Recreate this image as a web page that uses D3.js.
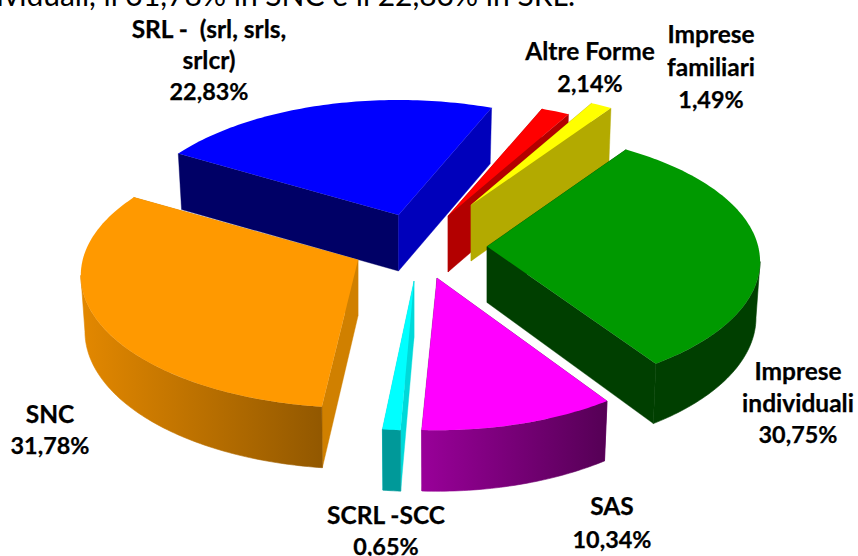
<!DOCTYPE html>
<html>
<head>
<meta charset="utf-8">
<script src="https://cdn.jsdelivr.net/npm/d3@7/dist/d3.min.js"></script>
<style>
html,body{margin:0;padding:0;background:#fff;overflow:hidden}
svg{display:block}
text{font-family:Lato,"Open Sans",sans-serif;fill:#000}
</style>
</head>
<body>
<svg id="chart" width="858" height="556"></svg>
<script>
// ---------- data ----------
const categories = ["Imprese individuali","SAS","SCRL -SCC","SNC","SRL -  (srl, srls, srlcr)","Altre Forme","Imprese familiari"];
const shares = [30.75,10.34,0.65,31.78,22.83,2.14,1.49];
const shareLabels = ["30,75%","10,34%","0,65%","31,78%","22,83%","2,14%","1,49%"];
const labelLines = [["Imprese","individuali"],["SAS"],["SCRL -SCC"],["SNC"],["SRL -  (srl, srls,","srlcr)"],["Altre Forme"],["Imprese","familiari"]];
const captionTail = "individuali, il 31,78% in SNC e il 22,83% in SRL.";

// ---------- styles ----------
const topColors   = ["#009900","#ff00ff","#00ffff","#ff9900","#0000ff","#ff0000","#ffff00"];
const wallFrom    = ["#003f00","#990099","#009999","#e38800","#000080","#b30000","#b3aa00"];
const wallTo      = ["#003f00","#550055","#009999","#925800","#000080","#b30000","#b3aa00"];
const startFace   = ["#003f00","#800080","#00d9d9","#d08000","#000066","#b30000","#b3aa00"];
const endFace     = ["#003f00","#800080","#00d9d9","#d08000","#0000bb","#b30000","#b3aa00"];

// ---------- layout ----------
const centre = [415,240];
const explodeX = [72,22,-1,-57,-16.5,33,56];       // exploded displacement of each slice
const explodeY = [6.5,38,41,20,-25,-24,-35];
const drawOrder = [4,5,6,0,3,2,1];                 // back to front
const radiusX = 275, radiusY = 130, perspectiveDrop = 15;
const frontGrow = [1,1.05,1.03,1.02,1,1,1];
const widthGrow = [.993,1,.88,1.008,.99,1,1];
const lowerRimScale = 0.985, depthBack = 56, depthExtra = 5;
const viewAngles = [-59.4,51.8,93.2,97.5,216,290,296,300.6]; // slice boundaries as seen in the 3-D view
const labelX = [798,612,386,50,209,590,711];
const labelY = [380,515,524,423,38,60,43];
const lineGap = [31.5,33,31,31,31,32,32.5];
const nameSize = 24.5, shareSize = 23.4;

// ---------- scales ----------
const arcs = d3.pie().sort(null).value(d=>d)(shares);
const boundaries = [0,...arcs.map(a=>a.endAngle)];
const viewAngle = d3.scaleLinear().domain(boundaries).range(viewAngles);
const rad = d=>d*Math.PI/180;

const svg = d3.select("#chart");
const defs = svg.append("defs");
const line = d3.line();
const poly = pts => line(pts)+"Z";

function upper(i,deg){
  const a = rad(deg);
  return [centre[0]+explodeX[i]+radiusX*widthGrow[i]*Math.cos(a),
          centre[1]+explodeY[i]+(perspectiveDrop+radiusY*Math.sin(a))*frontGrow[i]];
}
function lower(i,deg){
  const a = rad(deg), u = upper(i,deg);
  return [centre[0]+explodeX[i]+radiusX*widthGrow[i]*lowerRimScale*Math.cos(a),
          u[1]+depthBack+depthExtra*Math.max(0,Math.sin(a))];
}
function samples(a0,a1){
  const n = Math.max(2,Math.ceil(Math.abs(a1-a0)));
  return d3.range(n+1).map(k=>a0+(a1-a0)*k/n);
}

// ---------- marks ----------
svg.append("text").attr("x",575).attr("y",6).attr("text-anchor","end")
  .attr("font-size",30).text(captionTail);

drawOrder.forEach(i=>{
  const a0 = viewAngle(arcs[i].startAngle), a1 = viewAngle(arcs[i].endAngle);
  const apex = [centre[0]+explodeX[i],centre[1]+explodeY[i]];
  const apexLow = [apex[0],apex[1]+depthBack];
  const g = svg.append("g").attr("class","slice");

  g.append("path").attr("d",poly([apex,upper(i,a0),lower(i,a0),apexLow]))
    .attr("fill",startFace[i]).attr("stroke",startFace[i]).attr("stroke-width",.4);
  g.append("path").attr("d",poly([apex,upper(i,a1),lower(i,a1),apexLow]))
    .attr("fill",endFace[i]).attr("stroke",endFace[i]).attr("stroke-width",.4);

  const w0 = Math.max(a0,0), w1 = Math.min(a1,180);
  if(w1>w0){
    const ang = samples(w0,w1);
    const top = ang.map(d=>upper(i,d)), bot = ang.map(d=>lower(i,d)).reverse();
    const xs = top.concat(bot).map(p=>p[0]);
    const grad = defs.append("linearGradient").attr("id","wall"+i)
      .attr("gradientUnits","userSpaceOnUse")
      .attr("x1",d3.min(xs)).attr("x2",d3.max(xs)).attr("y1",0).attr("y2",0);
    grad.append("stop").attr("offset",0).attr("stop-color",wallFrom[i]);
    grad.append("stop").attr("offset",1).attr("stop-color",wallTo[i]);
    g.append("path").attr("d",poly(top.concat(bot)))
      .attr("fill",`url(#wall${i})`)
      .attr("stroke",`url(#wall${i})`).attr("stroke-width",.6);
  }

  const rim = samples(a0,a1).map(d=>upper(i,d));
  g.append("path").attr("d",poly([apex,...rim])).attr("fill",topColors[i]);
});

// ---------- labels ----------
categories.forEach((c,i)=>{
  const t = svg.append("text").attr("text-anchor","middle")
    .attr("font-weight",700)
    .attr("stroke","#000").attr("stroke-width",.25)
    .attr("transform",`translate(${labelX[i]},${labelY[i]})`);
  const rows = [...labelLines[i],shareLabels[i]];
  rows.forEach((s,k)=>{
    t.append("tspan").attr("x",0).attr("y",k*lineGap[i])
      .attr("font-size",k===rows.length-1?shareSize:nameSize)
      .attr("xml:space","preserve").text(s);
  });
});
</script>
</body>
</html>
